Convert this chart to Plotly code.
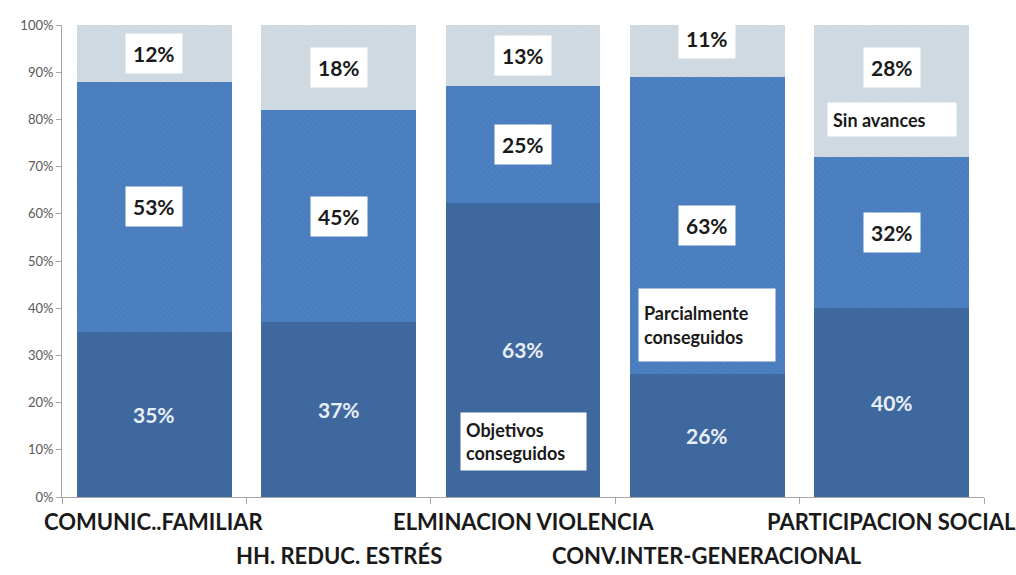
import plotly.graph_objects as go

# Program areas and results per area (percent of participants)
categories = ["COMUNIC..FAMILIAR", "HH. REDUC. ESTRÉS", "ELMINACION VIOLENCIA",
              "CONV.INTER-GENERACIONAL", "PARTICIPACION SOCIAL"]
series_names = ["Objetivos conseguidos", "Parcialmente conseguidos", "Sin avances"]
conseguidos = [35, 37, 63, 26, 40]
parciales = [53, 45, 25, 63, 32]
sin_avances = [12, 18, 13, 11, 28]
y_ticks = list(range(0, 101, 10))
y_tick_labels = [f"{v}%" for v in y_ticks]

series_values = [conseguidos, parciales, sin_avances]
colors = ["#3f689e", "#4a7dbd", "#cdd8e1"]
patterns = [
    dict(shape="", fgcolor="#3a6296"),
    dict(shape="x", fgcolor="#5b8dcb", size=4, solidity=0.25),
    dict(shape="x", fgcolor="#dde5ec", size=4, solidity=0.2),
]

FONT = "Lato"

fig = go.Figure()
for name, vals, col, pat in zip(series_names, series_values, colors, patterns):
    fig.add_trace(go.Bar(
        x=categories, y=vals, name=name,
        marker=dict(color=col, line=dict(width=0), pattern=pat),
        hoverinfo="x+y+name",
    ))

# Normalised stack boundaries (barnorm='percent' rescales each column to 100)
totals = [sum(v) for v in zip(*series_values)]
bounds = []
for i in range(len(categories)):
    acc = 0.0
    col_bounds = []
    for vals in series_values:
        start = acc
        acc += vals[i] / totals[i] * 100
        col_bounds.append((start, acc))
    bounds.append(col_bounds)

# pixel nudges for a few value labels: (category index, series index) -> yshift
label_shift = {(3, 2): 12, (4, 2): 24}

annotations = []
for i, cat in enumerate(categories):
    for s, vals in enumerate(series_values):
        lo, hi = bounds[i][s]
        text = f"<b>{vals[i]}%</b>"
        common = dict(x=cat, y=(lo + hi) / 2, xref="x", yref="y", showarrow=False,
                      yshift=label_shift.get((i, s), 0))
        if s == 0:
            annotations.append(dict(text=text, font=dict(family=FONT, size=21, color="#e8eef6"),
                                    **common))
        else:
            annotations.append(dict(text=text, font=dict(family=FONT, size=21, color="#1a1a1a"),
                                    bgcolor="#ffffff", borderpad=7, **common))

# series name labels placed inside one column each
name_spots = [(2, 0, 0.19, 115, 47), (3, 1, 0.165, 126, 62), (4, 2, 0.285, 118, 23)]
for ci, si, frac, w, h in name_spots:
    lo, hi = bounds[ci][si]
    annotations.append(dict(
        x=categories[ci], y=lo + (hi - lo) * frac, xref="x", yref="y", showarrow=False,
        text="<b>" + series_names[si].replace(" ", "<br>", 1 if si < 2 else 0) + "</b>",
        align="left", width=w, height=h, valign="middle",
        font=dict(family=FONT, size=18, color="#1a1a1a"),
        bgcolor="#ffffff", borderpad=5,
    ))

# staggered category labels below the axis
for i, cat in enumerate(categories):
    annotations.append(dict(
        x=cat, xref="x", y=0, yref="paper", yanchor="top", showarrow=False,
        yshift=-9 if i % 2 == 0 else -43,
        text=f"<b>{cat}</b>", font=dict(family=FONT, size=22, color="#1a1a1a"),
    ))

fig.update_layout(
    barmode="stack", barnorm="percent", bargap=0.16,
    width=1016, height=575,
    margin=dict(l=62, r=32, t=25, b=78),
    paper_bgcolor="#ffffff", plot_bgcolor="#ffffff",
    showlegend=False,
    annotations=annotations,
    font=dict(family=FONT),
)
fig.update_xaxes(
    type="category", range=[-0.5, len(categories) - 0.5],
    showticklabels=False, tickson="boundaries", ticks="outside", ticklen=6,
    tickcolor="#a6a6a6", showline=True, linecolor="#a6a6a6", linewidth=1,
    showgrid=False, zeroline=False,
)
fig.update_yaxes(
    range=[0, 100], tickmode="array", tickvals=y_ticks, ticktext=y_tick_labels,
    ticks="outside", ticklen=5, tickcolor="#a6a6a6",
    showline=True, linecolor="#a6a6a6", linewidth=1,
    showgrid=False, zeroline=False,
    tickfont=dict(family=FONT, size=13, color="#595959"),
)

fig.write_html("out.html")
